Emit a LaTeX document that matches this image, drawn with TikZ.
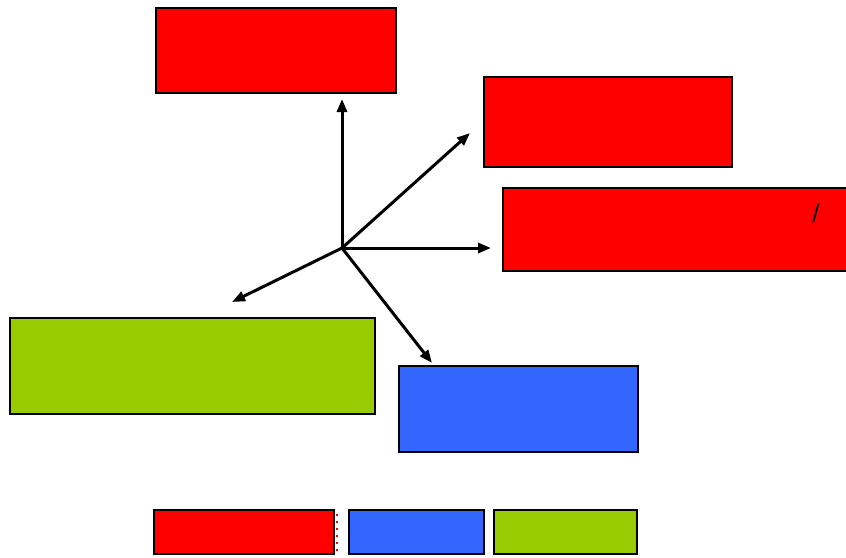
\documentclass[tikz,border=0pt]{standalone}
\usepackage{fontspec}
\setmainfont{Liberation Sans}
\usetikzlibrary{arrows.meta}
\definecolor{cred}{HTML}{FF0000}
\definecolor{cblue}{HTML}{3366FF}
\definecolor{cgreen}{HTML}{99CC00}
\begin{document}
\begin{tikzpicture}[x=1pt,y=-1pt,
  box/.style={draw=black,line width=1.6pt},
  arr/.style={line width=3pt,-{Triangle[length=13pt,width=10pt]}}]
\useasboundingbox (0,0) rectangle (846,557);
\fill[white] (0,0) rectangle (846,557);
% boxes
\draw[box,fill=cred] (156,8) rectangle (396,93);
\draw[box,fill=cred] (484,77) rectangle (732,167);
\draw[box,fill=cred] (503,188) rectangle (847,271);
\node[font=\fontsize{26}{30}\selectfont,inner sep=0pt] (slash) at (816,213) {/};
\draw[box,fill=cgreen] (10,318) rectangle (375,414);
\draw[box,fill=cblue] (399,366) rectangle (638,452);
% legend
\draw[box,fill=cred] (154,510) rectangle (334,554);
\draw[cred,dash pattern=on 2pt off 5pt,line width=1.5pt] (337,514) -- (337,553);
\draw[box,fill=cblue] (349,510) rectangle (484,554);
\draw[box,fill=cgreen] (494,510) rectangle (637,554);
% arrows
\coordinate (c) at (342,248);
\coordinate (eup) at (342,99);
\coordinate (eur) at (470,133);
\coordinate (er) at (491,248);
\coordinate (edl) at (232,302);
\coordinate (edr) at (432,363);
\draw[arr] (c) -- (eup);
\draw[arr] (c) -- (eur);
\draw[arr] (c) -- (er);
\draw[arr] (c) -- (edl);
\draw[arr] (c) -- (edr);
\end{tikzpicture}
\end{document}
